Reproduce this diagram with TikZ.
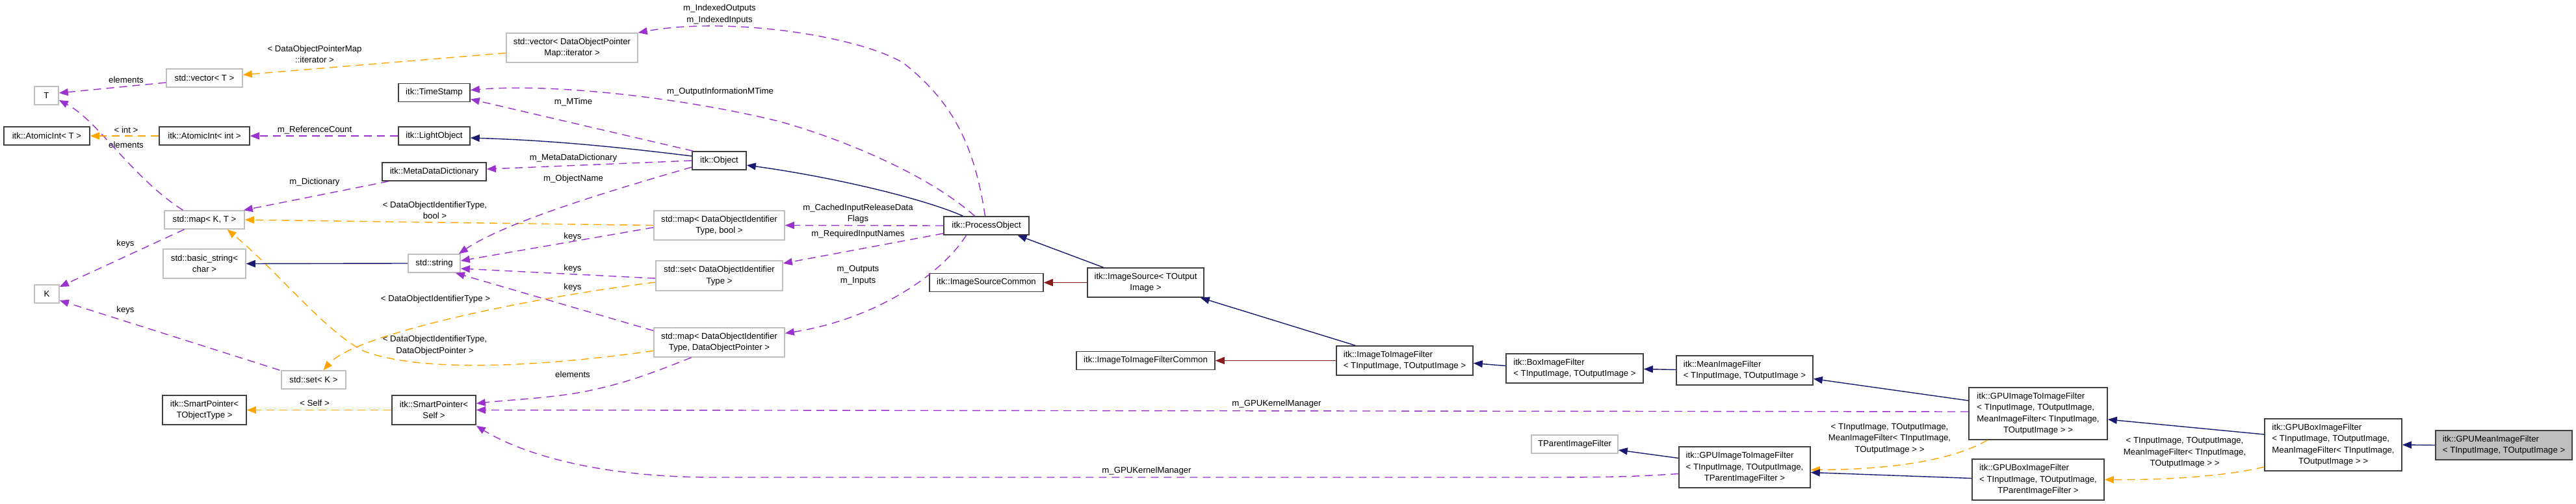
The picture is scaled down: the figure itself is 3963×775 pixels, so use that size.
\documentclass[tikz,border=0pt]{standalone}
\usepackage{fontspec}
\setmainfont{Liberation Sans}
\usetikzlibrary{arrows.meta}
\definecolor{navy}{HTML}{191970}
\definecolor{orch}{HTML}{9A32CD}
\definecolor{orng}{HTML}{FFA500}
\definecolor{fireb}{HTML}{8B1A1A}
\definecolor{gry}{HTML}{BFBFBF}
\definecolor{bord}{HTML}{404040}
\newcommand{\dfont}{\fontsize{13.2}{17.5}\selectfont}
\newcommand{\tl}[1]{\begin{tabular}{@{}l@{}}#1\end{tabular}}
\newcommand{\cl}[1]{\multicolumn{1}{@{}c@{}}{#1}}
\begin{document}
\begin{tikzpicture}[x=1pt,y=-1pt,
  every node/.style={font=\dfont},
  box/.style={rectangle, line width=1.6pt, fill=white, inner sep=0pt, align=center},
  doc/.style={box, draw=bord},
  und/.style={box, draw=gry},
  sz/.style 2 args={minimum width=#1pt, minimum height=#2pt},
  edge/.style={line width=1.4pt, -{Triangle[length=14pt,width=11pt]}},
  inh/.style={edge, draw=navy},
  prv/.style={edge, draw=fireb},
  usg/.style={edge, draw=orch, dash pattern=on 12pt off 8pt},
  tpl/.style={edge, draw=orng, dash pattern=on 12pt off 8pt},
  elab/.style={inner sep=0pt, align=center}
]
\useasboundingbox (0,0) rectangle (3963,775);
\fill[white] (0,0) rectangle (3963,775);

% nodes
\node[und, sz={37}{28}] (T) at (71.5,147) {T};
\node[und, sz={117}{28}] (vecT) at (314.5,120) {std::vector< T >};
\node[doc, sz={132}{28}] (aiT) at (72,209) {itk::AtomicInt< T >};
\node[doc, sz={139}{28}] (aiI) at (314.5,209) {itk::AtomicInt< int >};
\node[und, sz={123}{28}] (mapKT) at (314.5,338) {std::map< K, T >};
\node[und, sz={127}{45}] (bstr) at (314.5,405.5) {std::basic\_string<\\char >};
\node[und, sz={38}{28}] (K) at (72,452) {K};
\node[und, sz={99}{28}] (setK) at (482.5,584) {std::set< K >};
\node[doc, sz={129}{45}] (spT) at (314.5,630.5) {itk::SmartPointer<\\TObjectType >};
\node[und, sz={202}{45}] (vecD) at (880,73.5) {std::vector< DataObjectPointer\\Map::iterator >};
\node[doc, sz={110}{28}] (ts) at (668,142.5) {itk::TimeStamp};
\node[doc, sz={110}{28}] (lo) at (668,209) {itk::LightObject};
\node[doc, sz={160}{28}] (mdd) at (668,264) {itk::MetaDataDictionary};
\node[und, sz={80}{28}] (str) at (668,405) {std::string};
\node[doc, sz={129}{45}] (spS) at (667.5,630.5) {itk::SmartPointer<\\Self >};
\node[doc, sz={83}{28}] (obj) at (1106.5,247) {itk::Object};
\node[und, sz={201}{45}] (mapB) at (1106.5,346.5) {std::map< DataObjectIdentifier\\Type, bool >};
\node[und, sz={195}{46}] (setD) at (1106.5,424) {std::set< DataObjectIdentifier\\Type >};
\node[und, sz={201}{45}] (mapD) at (1106.5,526.5) {std::map< DataObjectIdentifier\\Type, DataObjectPointer >};
\node[doc, sz={131}{28}] (po) at (1517.5,347) {itk::ProcessObject};
\node[doc, sz={175}{28}] (isc) at (1517.5,434.5) {itk::ImageSourceCommon};
\node[doc, sz={179}{45}] (is) at (1762.5,434.5) {itk::ImageSource< TOutput\\Image >};
\node[doc, sz={213}{28}] (itifc) at (1762.5,554.5) {itk::ImageToImageFilterCommon};
\node[doc, sz={210}{45}] (itif) at (2161,554.5) {\tl{itk::ImageToImageFilter\\< TInputImage, TOutputImage >}};
\node[doc, sz={211}{45}] (bif) at (2422.5,566.5) {\tl{itk::BoxImageFilter\\< TInputImage, TOutputImage >}};
\node[und, sz={133}{28}] (tpif) at (2422.5,683) {TParentImageFilter};
\node[doc, sz={210}{45}] (mif) at (2684,569.5) {\tl{itk::MeanImageFilter\\< TInputImage, TOutputImage >}};
\node[doc, sz={202}{63}] (gT) at (2684,718.5) {\tl{itk::GPUImageToImageFilter\\< TInputImage, TOutputImage,\\\cl{TParentImageFilter >}}};
\node[doc, sz={213}{80}] (gM) at (3135.5,636) {\tl{itk::GPUImageToImageFilter\\< TInputImage, TOutputImage,\\\cl{MeanImageFilter< TInputImage,}\\\cl{TOutputImage > >}}};
\node[doc, sz={203}{63}] (gbT) at (3135.5,737.5) {\tl{itk::GPUBoxImageFilter\\< TInputImage, TOutputImage,\\\cl{TParentImageFilter >}}};
\node[doc, sz={211}{80}] (gbM) at (3589.5,684) {\tl{itk::GPUBoxImageFilter\\< TInputImage, TOutputImage,\\\cl{MeanImageFilter< TInputImage,}\\\cl{TOutputImage > >}}};
\node[doc, fill=gry, sz={210}{45}] (gm) at (3852,684.5) {\tl{itk::GPUMeanImageFilter\\< TInputImage, TOutputImage >}};

% edge labels
\node[elab] (l1) at (194,123) {elements};
\node[elab] (l2) at (194,223) {elements};
\node[elab] (l3) at (194,200) {< int >};
\node[elab] (l4) at (484,83.5) {< DataObjectPointerMap\\::iterator >};
\node[elab] (l5) at (484,200) {m\_ReferenceCount};
\node[elab] (l6) at (484,280) {m\_Dictionary};
\node[elab] (l7) at (669,323.5) {< DataObjectIdentifierType,\\bool >};
\node[elab] (l8) at (193,375) {keys};
\node[elab] (l9) at (193,477) {keys};
\node[elab] (l10) at (670,460) {< DataObjectIdentifierType >};
\node[elab] (l11) at (669,531) {< DataObjectIdentifierType,\\DataObjectPointer >};
\node[elab] (l12) at (484,620) {< Self >};
\node[elab] (l13) at (1107,22) {m\_IndexedOutputs\\m\_IndexedInputs};
\node[elab] (l14) at (1108,141) {m\_OutputInformationMTime};
\node[elab] (l15) at (882,157) {m\_MTime};
\node[elab] (l16) at (882,243) {m\_MetaDataDictionary};
\node[elab] (l17) at (882,275) {m\_ObjectName};
\node[elab] (l18) at (881,364) {keys};
\node[elab] (l19) at (881,413) {keys};
\node[elab] (l20) at (881,442) {keys};
\node[elab] (l21) at (881,576) {elements};
\node[elab] (l22) at (1320,328.5) {m\_CachedInputReleaseData\\Flags};
\node[elab] (l23) at (1320,360) {m\_RequiredInputNames};
\node[elab] (l24) at (1320,423.5) {m\_Outputs\\m\_Inputs};
\node[elab] (l25) at (1964,621) {m\_GPUKernelManager};
\node[elab] (l26) at (1764,724) {m\_GPUKernelManager};
\node[elab] (l27) at (2907,674.5) {< TInputImage, TOutputImage,\\MeanImageFilter< TInputImage,\\TOutputImage > >};
\node[elab] (l28) at (3361,696) {< TInputImage, TOutputImage,\\MeanImageFilter< TInputImage,\\TOutputImage > >};

% edges
\draw[usg] ([yshift=-7pt]vecT.west) -- ([yshift=4pt]T.east);
\draw[usg] ([xshift=-33pt]mapKT.north) .. controls (205,275) and (150,185) .. ([yshift=-7pt]T.east);
\draw[tpl] (aiI.west) -- (aiT.east);
\draw[usg] (lo.west) -- (aiI.east);
\draw[usg] ([xshift=-70pt]mdd.south) -- ([xshift=-2pt]mapKT.north east);
\draw[tpl] (mapB.west) -- (mapKT.east);
\draw[tpl] ([yshift=-8pt]vecD.west) -- ([yshift=5pt]vecT.east);
\draw[tpl] ([yshift=-13pt]mapD.west) .. controls (800,568) and (640,570) .. (560,540) .. controls (500,510) and (430,420) .. ([xshift=35pt]mapKT.south);
\draw[tpl] ([yshift=-10pt]setD.west) .. controls (800,460) and (545,515) .. ([xshift=15pt]setK.north);
\draw[usg] ([xshift=-2pt]setK.north west) -- ([yshift=-10pt]K.east);
\draw[usg] ([xshift=-31pt]mapKT.south) -- ([yshift=11pt]K.east);
\draw[inh] (str.west) -- (bstr.east);
\draw[tpl] (spS.west) -- (spT.east);
\draw[usg] ([xshift=-2pt]po.north) .. controls (1500,230) and (1470,160) .. (1390,97) .. controls (1320,55) and (1120,25) .. (vecD.north east);
\draw[usg] ([xshift=-18pt]po.north) .. controls (1430,270) and (1300,215) .. (1200,187) .. controls (1050,150) and (850,128) .. ([yshift=4pt]ts.east);
\draw[usg] ([xshift=2pt]obj.north west) -- ([yshift=-10pt]ts.east);
\draw[inh] ([yshift=7pt]obj.west) .. controls (950,226) and (850,216) .. ([yshift=-3pt]lo.east);
\draw[usg] (obj.west) -- ([yshift=4pt]mdd.east);
\draw[usg] ([yshift=-10pt]obj.west) .. controls (950,290) and (780,340) .. ([xshift=-3pt]str.north east);
\draw[inh] ([xshift=-36pt]po.north) .. controls (1420,305) and (1280,272) .. ([yshift=-7pt]obj.east);
\draw[usg] (po.west) -- (mapB.east);
\draw[usg] ([yshift=-12pt]po.west) -- ([yshift=19pt]setD.east);
\draw[usg] ([xshift=-31pt]po.south) .. controls (1450,420) and (1350,490) .. ([yshift=14pt]mapD.east);
\draw[usg] ([yshift=20pt]mapB.south west) -- ([yshift=4pt]str.east);
\draw[usg] ([yshift=-4pt]setD.west) -- ([yshift=-8pt]str.east);
\draw[usg] ([yshift=18pt]mapD.west) -- ([xshift=-8pt]str.south east);
\draw[usg] ([xshift=-43pt]mapD.south) .. controls (1000,575) and (960,590) .. (900,602) .. controls (850,612) and (780,615) .. ([yshift=10pt]spS.east);
\draw[inh] ([xshift=-65pt]is.north) -- ([xshift=48pt]po.south);
\draw[prv] (is.west) -- (isc.east);
\draw[inh] ([xshift=-76pt]itif.north) -- ([xshift=-6pt]is.south east);
\draw[prv] (itif.west) -- (itifc.east);
\draw[inh] ([yshift=4pt]bif.west) -- ([yshift=-4pt]itif.east);
\draw[inh] ([yshift=1pt]mif.west) -- ([yshift=-1pt]bif.east);
\draw[inh] ([yshift=20pt]gM.west) -- ([yshift=-13pt]mif.east);
\draw[usg] ([yshift=3pt]gM.west) -- (spS.east);
\draw[usg] ([yshift=-10pt]gT.west) .. controls (2500,734) and (2450,734) .. (2350,734) -- (1100,734) .. controls (900,734) and (790,690) .. ([yshift=-1pt]spS.south east);
\draw[inh] ([yshift=14pt]gT.west) -- ([yshift=-9pt]tpif.east);
\draw[tpl] ([xshift=-78pt]gM.south) .. controls (3000,710) and (2900,722) .. ([yshift=-4pt]gT.east);
\draw[inh] ([yshift=2pt]gbT.west) -- ([yshift=-8pt]gT.east);
\draw[inh] ([yshift=16pt]gbM.west) -- ([yshift=-9pt]gM.east);
\draw[tpl] ([yshift=-34pt]gbM.west) .. controls (3420,733) and (3330,738) .. (gbT.east);
\draw[inh] (gm.west) -- (gbM.east);
\end{tikzpicture}
\end{document}
